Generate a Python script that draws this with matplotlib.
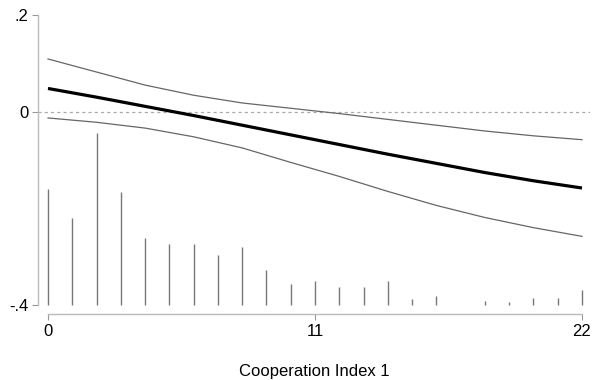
import matplotlib
matplotlib.use('Agg')
import matplotlib.pyplot as plt
import numpy as np

plt.rcParams['font.family'] = ['Liberation Sans', 'DejaVu Sans']

# marginal effect and 95% CI
x_line = [0, 2, 4, 6, 8, 10, 12, 14, 16, 18, 20, 22]
effect = [0.048, 0.030, 0.011, -0.008, -0.028, -0.048, -0.068, -0.088, -0.107, -0.126, -0.143, -0.158]
upper = [0.109, 0.082, 0.055, 0.034, 0.018, 0.007, -0.004, -0.016, -0.028, -0.040, -0.050, -0.058]
lower = [-0.013, -0.022, -0.034, -0.052, -0.075, -0.105, -0.134, -0.165, -0.194, -0.219, -0.240, -0.258]

# distribution of the index (spike heights above the -.4 baseline)
x_hist = list(range(23))
hist_h = [0.240, 0.180, 0.356, 0.234, 0.139, 0.126, 0.126, 0.103, 0.120, 0.073, 0.043,
          0.050, 0.037, 0.037, 0.050, 0.012, 0.019, 0.0, 0.008, 0.007, 0.014, 0.014, 0.031]
base = -0.4

fig = plt.figure(figsize=(5.98, 3.8), dpi=100)
ax = fig.add_axes([38/598, 1-314/380, 552/598, 299/380])

ax.vlines(x_hist, base, [base + h for h in hist_h], color='#777777', lw=1.0)
ax.axhline(0, color='#aaaaaa', lw=0.9, ls=(0, (2.5, 2.5)))
ax.plot(x_line, upper, color='#666666', lw=0.9)
ax.plot(x_line, lower, color='#666666', lw=0.9)
ax.plot(x_line, effect, color='black', lw=2.3, solid_capstyle='butt')

ax.set_xlim(-10/24.27, 22 + 8/24.27)
ax.set_ylim(-0.4 - 9/482.5, 0.2)

for s in ['top', 'right']:
    ax.spines[s].set_visible(False)
for s in ['left', 'bottom']:
    ax.spines[s].set_color('#bbbbbb')
    ax.spines[s].set_linewidth(1.0)
ax.spines['left'].set_bounds(-0.4, 0.2)
ax.spines['bottom'].set_bounds(0, 22)

ax.set_xticks([0, 11, 22])
ax.set_xticklabels(['0', '11', '22'])
ax.set_yticks([-0.4, 0, 0.2])
ax.set_yticklabels(['-.4', '0', '.2'])
ax.tick_params(axis='both', colors='#999999', labelcolor='black', length=4, width=0.8,
               labelsize=12, pad=3)

ax.set_xlabel('Cooperation Index 1', fontsize=12, labelpad=18)

fig.savefig('out.png', dpi=100)
